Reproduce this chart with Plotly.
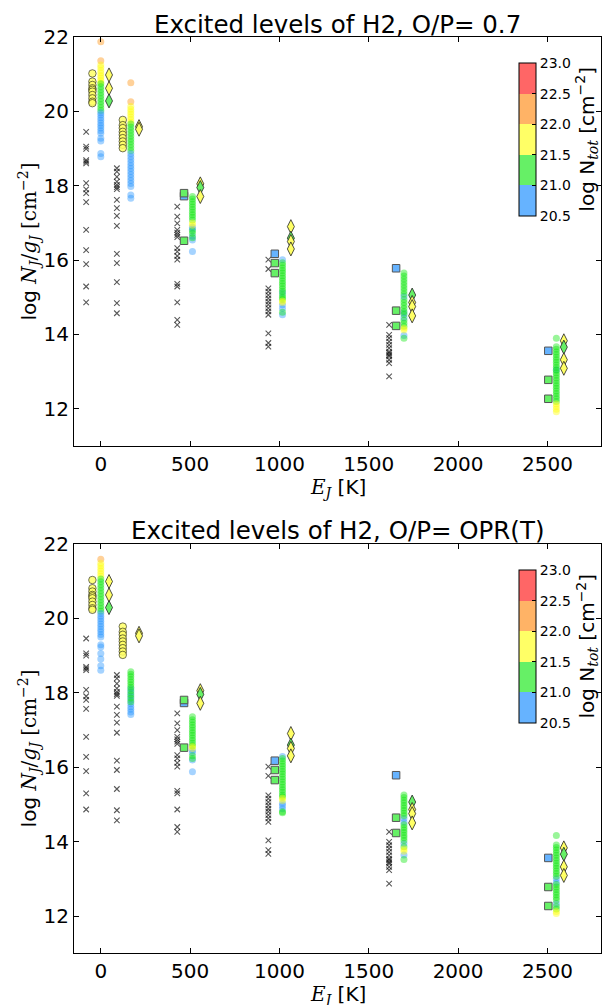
import plotly.graph_objects as go

# ---------------- data ----------------
# colour bins of log N_tot
NB, NG, NY, NO = 20.75, 21.25, 21.75, 22.25

# observed-like markers (identical in both panels)
CROSS_X = [-82, 90, 428, 938, 1614]
CROSS_Y = [
    [19.45, 19.05, 18.99, 18.69, 18.65, 18.60, 18.07, 17.90, 17.80, 17.56, 16.81, 16.27, 15.89, 15.29, 14.86],
    [18.47, 18.38, 18.24, 18.11, 18.02, 17.96, 17.91, 17.62, 17.40, 17.19, 16.92, 16.17, 15.92, 15.41, 14.84, 14.57],
    [17.44, 17.17, 16.99, 16.81, 16.74, 16.68, 16.62, 16.32, 16.23, 16.11, 16.01, 15.36, 15.29, 14.86, 14.39, 14.26],
    [16.01, 15.76, 15.24, 15.15, 15.06, 14.97, 14.88, 14.80, 14.71, 14.62, 14.53, 14.03, 13.77, 13.67],
    [14.26, 13.99, 13.90, 13.81, 13.72, 13.63, 13.54, 13.50, 13.45, 13.41, 13.32, 13.23, 12.87],
]

CIRC_X = [-47, 123]
CIRC_Y = [
    [21.02, 20.80, 20.71, 20.62, 20.58, 20.53, 20.44, 20.35, 20.26, 20.22],
    [19.77, 19.63, 19.55, 19.45, 19.37, 19.28, 19.19, 19.10, 19.01],
]

SQ_X = [466, 974, 1653, 2505]
SQ_Y = [[17.72, 17.80, 16.52], [16.17, 15.92, 15.65], [15.78, 14.64, 14.23], [13.56, 12.78, 12.27]]
SQ_N = [[NB, NG, NG], [NB, NG, NG], [NB, NG, NG], [NB, NG, NG]]

DIA_X = [46, 214, 557, 1064, 1743, 2592]
DIA_Y = [[20.98, 20.62, 20.28], [19.59, 19.52], [18.05, 17.95, 17.71],
         [16.90, 16.59, 16.50, 16.30], [15.06, 14.86, 14.75, 14.50], [13.83, 13.66, 13.32, 13.09]]
DIA_N = [[NY, NY, NG], [NY, NY], [NY, NG, NY], [NY, NG, NY, NY], [NG, NY, NY, NY], [NY, NG, NY, NY]]

# model columns (blue entries listed first so they sit underneath)
MOD_X = [0, 168, 513, 1017, 1697, 2550]

TOP_Y = [
    [21.87, 21.36, 21.25, 21.18, 21.10, 21.03, 20.96, 20.90, 20.83, 20.77,
     20.74, 20.66, 20.58, 20.50, 20.42, 20.34, 20.26, 20.18, 20.10, 20.02,
     19.96, 19.90, 19.83, 19.76, 19.69, 19.62, 19.55, 19.48, 19.41, 19.28, 19.20, 18.87, 18.78],
    [20.77, 20.26, 20.13, 20.06, 19.99, 19.92, 19.85, 19.78, 19.71,
     19.66, 19.58, 19.50, 19.42, 19.34, 19.26, 19.18, 19.10, 19.02, 18.94,
     18.86, 18.78, 18.70, 18.62, 18.54, 18.46, 18.38, 18.30, 18.22, 18.14, 18.06, 17.98, 17.75, 17.66],
    [16.88, 16.83, 16.64, 16.54, 16.23,
     17.71, 17.64, 17.57, 17.50, 17.43, 17.36, 17.29, 17.22, 17.15, 17.08, 16.79, 16.72, 16.60,
     17.00, 16.94],
    [16.01, 15.12, 14.80, 14.70, 14.53,
     15.93, 15.86, 15.79, 15.72, 15.65, 15.58, 15.51, 15.44, 15.37, 15.30, 15.23, 15.16, 15.06, 15.00, 14.95, 14.60,
     14.90, 14.86],
    [15.02, 14.58, 14.45, 13.97,
     15.65, 15.57, 15.49, 15.41, 15.33, 15.25, 15.17, 15.09, 14.94, 14.86, 14.78, 14.70, 14.62, 14.54, 14.38, 14.30, 14.22, 13.90,
     14.17, 14.12],
    [13.05,
     13.90, 13.67, 13.60, 13.53, 13.46, 13.39, 13.32, 13.25, 13.18, 13.11, 13.04, 12.97, 12.90, 12.83,
     12.76, 12.69, 12.62, 12.55, 12.48, 12.41, 12.34, 12.27, 12.20, 12.13, 12.06, 11.99, 11.92],
]
TOP_N = [
    [NO, NO] + [NY] * 8 + [NG] * 10 + [NB] * 13,
    [NO, NO] + [NY] * 7 + [NG] * 10 + [NB] * 14,
    [NB] * 5 + [NG] * 13 + [NY] * 2,
    [NB] * 5 + [NG] * 16 + [NY] * 2,
    [NB] * 4 + [NG] * 18 + [NY] * 2,
    [NB] + [NG] * 23 + [NY] * 4,
]

BOT_Y = [
    [21.58, 21.47, 21.40, 21.33, 21.26, 21.19, 21.12,
     21.05, 20.97, 20.89, 20.81, 20.73, 20.65, 20.57, 20.49, 20.41, 20.33, 20.25, 20.18,
     20.12, 20.05, 19.98, 19.91, 19.84, 19.77, 19.70, 19.63, 19.56, 19.49, 19.28, 19.22, 19.05, 18.90, 18.72, 18.60],
    [18.10, 18.00, 17.90, 17.80, 17.70, 17.62, 17.55, 17.48, 17.41,
     18.56, 18.49, 18.42, 18.35, 18.28, 18.21, 18.14, 18.05, 17.95, 17.85, 17.75],
    [16.45, 16.38, 16.19, 15.87,
     17.35, 17.27, 17.20, 17.13, 17.06, 16.99, 16.92, 16.85, 16.78, 16.71, 16.64, 16.57, 16.30, 16.23,
     16.55, 16.50],
    [16.28, 15.03, 14.96, 14.88,
     16.23, 16.16, 16.09, 16.02, 15.95, 15.88, 15.81, 15.74, 15.67, 15.60, 15.53, 15.46, 15.39, 15.32, 15.25, 15.20,
     14.80, 14.77, 15.16, 15.10],
    [14.62, 14.52, 13.95, 13.64,
     15.25, 15.18, 15.11, 15.04, 14.97, 14.90, 14.83, 14.76, 14.69, 14.45, 14.38, 14.31, 14.24, 14.17, 14.10,
     14.03, 13.86, 13.52, 13.80, 13.74],
    [13.00, 12.90, 12.34,
     14.16, 13.91, 13.84, 13.77, 13.70, 13.63, 13.56, 13.49, 13.42, 13.35, 13.28, 13.21, 13.14, 13.07,
     12.85, 12.78, 12.71, 12.64, 12.57, 12.50, 12.43, 12.26, 12.19, 12.12, 12.07],
]
BOT_N = [
    [NO] + [NY] * 6 + [NG] * 12 + [NB] * 16,
    [NB] * 9 + [NG] * 11,
    [NB] * 4 + [NG] * 14 + [NY] * 2,
    [NB] * 4 + [NG] * 18 + [NY] * 2,
    [NB] * 4 + [NG] * 18 + [NY] * 2,
    [NB] * 3 + [NG] * 23 + [NY] * 2,
]

TITLES = ["Excited levels of H2, O/P= 0.7", "Excited levels of H2, O/P= OPR(T)"]
X_TICKS = [0, 500, 1000, 1500, 2000, 2500]
Y_TICKS = [12, 14, 16, 18, 20, 22]
CB_TICKS = [20.5, 21.0, 21.5, 22.0, 22.5, 23.0]

# ---------------- styling ----------------
W, H = 606, 1005
FONT = "DejaVu Sans"
LIGHT = ["#66b3ff", "#66f066", "#ffff66", "#ffb366", "#ff6666"]
DEEP = ["#1e90ff", "#00e600", "#ffff00", "#ff8c00", "#ff0000"]


def steps(cols):
    sc = []
    for i, c in enumerate(cols):
        sc.append([i / 5, c])
        sc.append([(i + 1) / 5, c])
    return sc


LIGHT_SC = steps(LIGHT)
DEEP_SC = steps(DEEP)

X0, X1 = 74, 601
panels = [(37, 446), (543.5, 953.3)]


def px(v):
    return v / W


def py(v):
    return 1 - v / H


fig = go.Figure()

for p, (ytop, ybot) in enumerate(panels):
    xa = "x" if p == 0 else "x2"
    ya = "y" if p == 0 else "y2"
    cax = "coloraxis" if p == 0 else "coloraxis2"
    MY = TOP_Y if p == 0 else BOT_Y
    MN = TOP_N if p == 0 else BOT_N

    # crosses
    for x, ys in zip(CROSS_X, CROSS_Y):
        fig.add_trace(go.Scatter(
            x=[x] * len(ys), y=ys, mode="markers", xaxis=xa, yaxis=ya, showlegend=False,
            marker=dict(symbol="x-thin", size=5.5, line=dict(width=1.1, color="rgba(0,0,0,0.65)"))))
    # model columns
    for x, ys, ns in zip(MOD_X, MY, MN):
        fig.add_trace(go.Scatter(
            x=[x] * len(ys), y=ys, mode="markers", xaxis=xa, yaxis=ya, showlegend=False,
            marker=dict(size=7, color=ns, colorscale=DEEP_SC, cmin=20.5, cmax=23,
                        opacity=0.4, line=dict(width=0))))
    # circles
    for x, ys in zip(CIRC_X, CIRC_Y):
        fig.add_trace(go.Scatter(
            x=[x] * len(ys), y=ys, mode="markers", xaxis=xa, yaxis=ya, showlegend=False,
            marker=dict(symbol="circle", size=7.5, color=[NY] * len(ys), coloraxis=cax,
                        opacity=0.85, line=dict(width=0.8, color="rgba(0,0,0,0.8)"))))
    # squares
    for x, ys, ns in zip(SQ_X, SQ_Y, SQ_N):
        fig.add_trace(go.Scatter(
            x=[x] * len(ys), y=ys, mode="markers", xaxis=xa, yaxis=ya, showlegend=False,
            marker=dict(symbol="square", size=7.5, color=ns, coloraxis=cax,
                        line=dict(width=1, color="#555555"))))
    # diamonds
    for x, ys, ns in zip(DIA_X, DIA_Y, DIA_N):
        fig.add_trace(go.Scatter(
            x=[x] * len(ys), y=ys, mode="markers", xaxis=xa, yaxis=ya, showlegend=False,
            marker=dict(symbol="diamond-tall", size=10, color=ns, coloraxis=cax,
                        line=dict(width=0.8, color="#222222"))))

ax_common = dict(showline=True, linecolor="black", linewidth=1.2, mirror="allticks",
                 ticks="inside", ticklen=5, tickwidth=1, tickcolor="black",
                 showgrid=False, zeroline=False,
                 tickfont=dict(family=FONT, size=20, color="black"))

layout = dict(
    width=W, height=H, margin=dict(l=0, r=0, t=0, b=0, autoexpand=False),
    paper_bgcolor="white", plot_bgcolor="white",
    font=dict(family=FONT, color="black"),
    xaxis=dict(domain=[px(X0), px(X1)], range=[-150, 2800], tickvals=X_TICKS, anchor="y", **ax_common),
    yaxis=dict(domain=[py(panels[0][1]), py(panels[0][0])], range=[11, 22], tickvals=Y_TICKS, anchor="x", **ax_common),
    xaxis2=dict(domain=[px(X0), px(X1)], range=[-150, 2800], tickvals=X_TICKS, anchor="y2", **ax_common),
    yaxis2=dict(domain=[py(panels[1][1]), py(panels[1][0])], range=[11, 22], tickvals=Y_TICKS, anchor="x2", **ax_common),
)

cb_boxes = [(63.3, 216), (570, 723)]
for i, (t, b) in enumerate(cb_boxes):
    key = "coloraxis" if i == 0 else "coloraxis2"
    layout[key] = dict(
        colorscale=LIGHT_SC, cmin=20.5, cmax=23,
        colorbar=dict(
            x=px(519), xanchor="left", y=py((t + b) / 2), yanchor="middle",
            len=b - t, lenmode="pixels", thickness=17, thicknessmode="pixels",
            xpad=0, ypad=0, outlinewidth=1, outlinecolor="black",
            tickvals=CB_TICKS, ticktext=[f"{v:.1f}" for v in CB_TICKS],
            ticks="inside", ticklen=4, tickcolor="black",
            tickfont=dict(family=FONT, size=14, color="black")))

fig.update_layout(**layout)

SERIF = "DejaVu Serif"
ann = []
for i, (ytop, ybot) in enumerate(panels):
    xc = (X0 + X1) / 2
    ann.append(dict(text=TITLES[i], x=px(xc), y=py(ytop - 13), xref="paper", yref="paper",
                    xanchor="center", yanchor="middle", showarrow=False,
                    font=dict(family=FONT, size=24.5, color="black")))
    ann.append(dict(text=f'<span style="font-family:{SERIF}"><i>E<sub>J</sub></i></span> [K]',
                    x=px(xc), y=py(ybot + 42), xref="paper", yref="paper",
                    xanchor="center", yanchor="middle", showarrow=False,
                    font=dict(family=FONT, size=20, color="black")))
    ann.append(dict(text=f'log <span style="font-family:{SERIF}"><i>N<sub>J</sub></i>/<i>g<sub>J</sub></i> [cm<sup>−2</sup>]</span>',
                    x=px(29), y=py((ytop + ybot) / 2), xref="paper", yref="paper",
                    xanchor="center", yanchor="middle", textangle=-90, showarrow=False,
                    font=dict(family=FONT, size=20, color="black")))
    t, b = cb_boxes[i]
    ann.append(dict(text=f'log N<sub><span style="font-family:{SERIF}"><i>tot</i></span></sub> [cm<sup>−2</sup>]',
                    x=px(587), y=py((t + b) / 2), xref="paper", yref="paper",
                    xanchor="center", yanchor="middle", textangle=-90, showarrow=False,
                    font=dict(family=FONT, size=20, color="black")))
fig.update_layout(annotations=ann)

fig.write_html("out.html", config={"displayModeBar": False},
               post_script="document.body.style.margin='0';document.body.style.overflow='hidden';")
